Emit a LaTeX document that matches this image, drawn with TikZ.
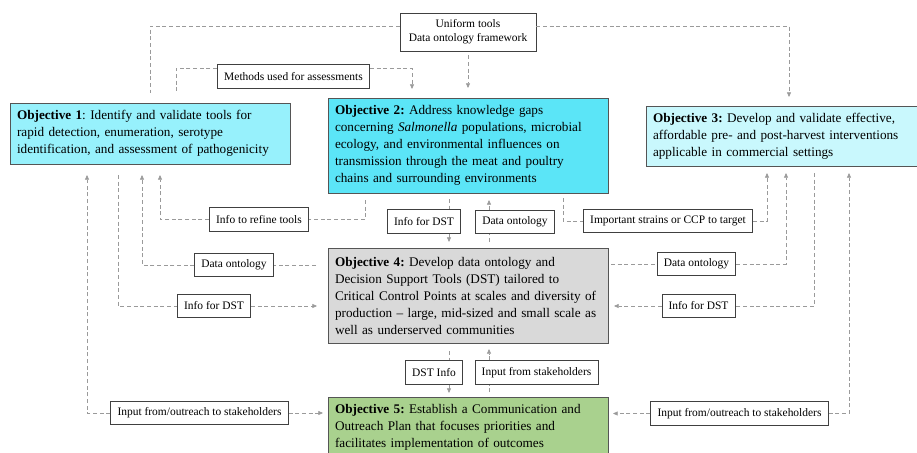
\documentclass[tikz,border=0pt]{standalone}
\usepackage{fontspec}
\setmainfont{Liberation Serif}
\usetikzlibrary{arrows.meta}
\definecolor{objone}{HTML}{97F1FC}
\definecolor{objtwo}{HTML}{5BE5F7}
\definecolor{objthree}{HTML}{C9F8FD}
\definecolor{objfour}{HTML}{D9D9D9}
\definecolor{objfive}{HTML}{A9D18E}
\definecolor{objline}{HTML}{555555}
\definecolor{labline}{HTML}{404040}
\definecolor{linkcol}{HTML}{9A9A9A}
\frenchspacing

\begin{document}
\begin{tikzpicture}[x=0.75pt,y=-0.75pt,
	obj/.style={rectangle,draw=objline,line width=0.7pt,align=left,inner xsep=5.25pt,text width=199.5pt,font=\fontsize{9.9}{12.75}\selectfont},
	lab/.style={rectangle,draw=labline,line width=0.6pt,fill=white,inner xsep=5pt,minimum height=17.5pt,font=\fontsize{8.6}{10.5}\selectfont},
	link/.style={draw=linkcol,line width=0.5pt,dash pattern=on 3pt off 2pt},
	tip/.style={-{Triangle[length=3.5pt,width=3pt]}}]
	\useasboundingbox (0,0) rectangle (917,453);
	
	% objectives
	\node[obj,fill=objone,minimum height=45.75pt] (obj1) at (150,133.5) {\textbf{Objective 1}: Identify and validate tools for\\ rapid detection, enumeration, serotype\\ identification, and assessment of pathogenicity};
	\node[obj,fill=objtwo,minimum height=71.25pt] (obj2) at (468,145.5) {\textbf{Objective 2:} Address knowledge gaps\\ concerning \textit{Salmonella} populations, microbial\\ ecology, and environmental influences on\\ transmission through the meat and poultry\\ chains and surrounding environments};
	\node[obj,fill=objthree,minimum height=45pt] (obj3) at (786,136) {\textbf{Objective 3:} Develop and validate effective,\\ affordable pre- and post-harvest interventions\\ applicable in commercial settings};
	\node[obj,fill=objfour,minimum height=71.25pt] (obj4) at (468,295.5) {\textbf{Objective 4:} Develop data ontology and\\ Decision Support Tools (DST) tailored to\\ Critical Control Points at scales and diversity of\\ production -- large, mid-sized and small scale as\\ well as underserved communities};
	\node[obj,fill=objfive,minimum height=45.75pt] (obj5) at (468,427.5) {\textbf{Objective 5:} Establish a Communication and\\ Outreach Plan that focuses priorities and\\ facilitates implementation of outcomes};
	
	% labels
	\node[lab,align=center,minimum width=102pt,minimum height=28.5pt] (uniform) at (468,32) {Uniform tools\\ Data ontology framework};
	\node[lab] (methods) at (293.5,76.5) {Methods used for assessments};
	\node[lab] (refine) at (259,219.5) {Info to refine tools};
	\node[lab] (dstM) at (424,221.5) {Info for DST};
	\node[lab] (ontM) at (515,222) {Data ontology};
	\node[lab] (strains) at (668,221) {Important strains or CCP to target};
	\node[lab] (ontL) at (234,265) {Data ontology};
	\node[lab] (dstL) at (214,306) {Info for DST};
	\node[lab] (ontR) at (696.5,264) {Data ontology};
	\node[lab] (dstR) at (698.5,306) {Info for DST};
	\node[lab] (dstI) at (434,372.5) {DST Info};
	\node[lab] (stake) at (536.5,372.5) {Input from stakeholders};
	\node[lab] (outL) at (199.5,413) {Input from/outreach to stakeholders};
	\node[lab] (outR) at (739.5,413.5) {Input from/outreach to stakeholders};
	
	% free ends
	\coordinate (u1) at (150,93);
	\coordinate (u2) at (468,88);
	\coordinate (u3) at (789,97);
	\coordinate (m1) at (176,93);
	\coordinate (m2) at (412,89);
	\coordinate (o1a) at (87,175);
	\coordinate (o1b) at (118,175);
	\coordinate (o1c) at (142,175);
	\coordinate (o1d) at (160,175);
	\coordinate (o2a) at (365,200);
	\coordinate (o2b) at (449,199);
	\coordinate (o2c) at (489,200);
	\coordinate (o2d) at (563,198);
	\coordinate (o3a) at (767,173);
	\coordinate (o3b) at (786,173);
	\coordinate (o3c) at (814,173);
	\coordinate (o3d) at (849,173);
	\coordinate (o4a) at (316,265);
	\coordinate (o4b) at (317,306);
	\coordinate (o4c) at (611,264);
	\coordinate (o4d) at (614,306);
	\coordinate (o4e) at (449,242);
	\coordinate (o4f) at (489,242);
	\coordinate (o4g) at (449,351);
	\coordinate (o4h) at (489,349);
	\coordinate (o5a) at (449,393);
	\coordinate (o5b) at (489,392);
	\coordinate (o5c) at (323,413);
	\coordinate (o5d) at (613,413.5);
	
	% top
	\path[link] ([yshift=4.5pt]uniform.west) -| (u1);
	\path[link,tip] ([yshift=4.5pt]uniform.east) -| (u3);
	\path[link,tip] ([yshift=-3pt]uniform.south) -- (u2);
	\path[link] ([yshift=6pt]methods.west) -| (m1);
	\path[link,tip] ([yshift=6pt]methods.east) -| (m2);
	
	% below objective 2
	\path[link] (o2a) |- (refine.east);
	\path[link,tip] (refine.west) -| (o1d);
	\path[link] (o2b) -- (o2b |- dstM.north);
	\path[link,tip] (o2b |- dstM.south) -- (o4e);
	\path[link] (o4f) -- (o4f |- ontM.south);
	\path[link,tip] (o4f |- ontM.north) -- (o2c);
	\path[link] (o2d) |- (strains.west);
	\path[link,tip] (strains.east) -| (o3a);
	
	% left side
	\path[link] (o4a) -- (ontL.east);
	\path[link,tip] (ontL.west) -| (o1c);
	\path[link] (o1b) |- (dstL.west);
	\path[link,tip] (dstL.east) -- (o4b);
	\path[link,tip] (outL.west) -| (o1a);
	\path[link,tip] (outL.east) -- (o5c);
	
	% right side
	\path[link] (o4c) -- (ontR.west);
	\path[link,tip] (ontR.east) -| (o3b);
	\path[link] (o3c) |- (dstR.east);
	\path[link,tip] (dstR.west) -- (o4d);
	\path[link,tip] (outR.east) -| (o3d);
	\path[link,tip] (outR.west) -- (o5d);
	
	% below objective 4
	\path[link] (o4g) -- (o4g |- dstI.north);
	\path[link,tip] (o4g |- dstI.south) -- (o5a);
	\path[link] (o5b) -- (o5b |- stake.south);
	\path[link,tip] (o5b |- stake.north) -- (o4h);
\end{tikzpicture}
\end{document}
